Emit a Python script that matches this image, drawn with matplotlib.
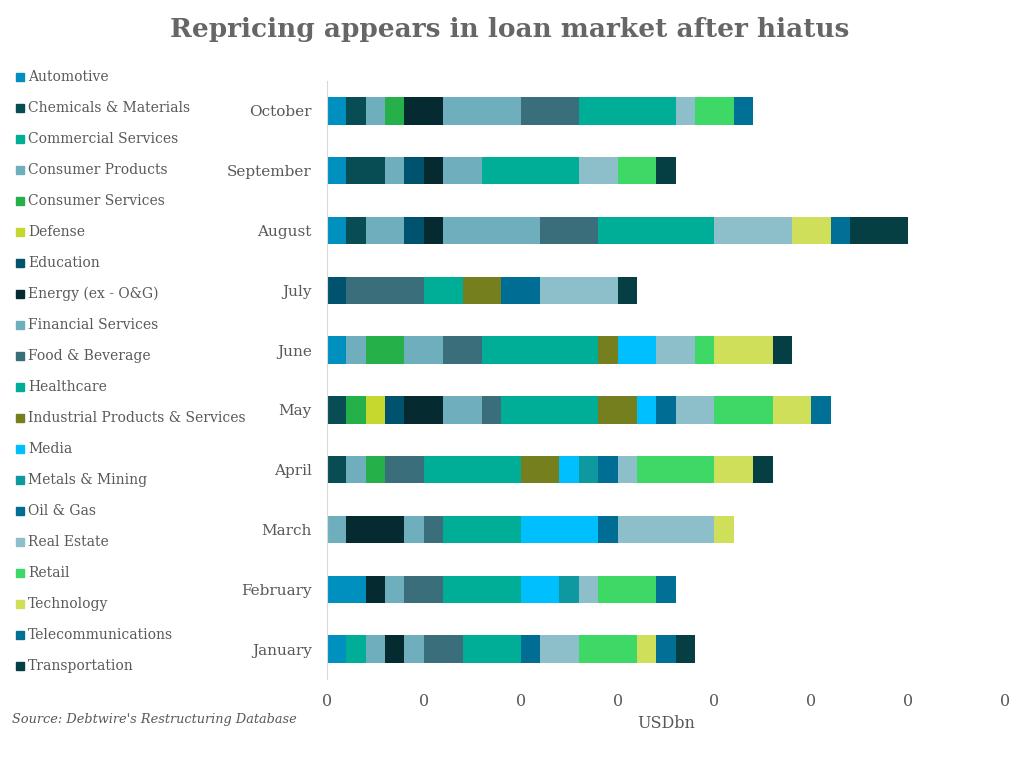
import numpy as np
import matplotlib
matplotlib.use("Agg")
import matplotlib.pyplot as plt
from matplotlib.patches import Rectangle

months = ["January", "February", "March", "April", "May",
          "June", "July", "August", "September", "October"]

sectors = [
    "Automotive", "Chemicals & Materials", "Commercial Services", "Consumer Products",
    "Consumer Services", "Defense", "Education", "Energy (ex - O&G)", "Financial Services",
    "Food & Beverage", "Healthcare", "Industrial Products & Services", "Media",
    "Metals & Mining", "Oil & Gas", "Real Estate", "Retail", "Technology",
    "Telecommunications", "Transportation",
]

colors = [
    "#0090c0", "#084c54", "#00ad96", "#6fafbd", "#25b04a", "#c4d82e", "#00536f",
    "#052b31", "#6fafbd", "#3a6e7a", "#00ad96", "#757f1e", "#00bfff", "#0e98a0",
    "#006e94", "#8dbfcb", "#3dd865", "#d0df5a", "#007096", "#053f44",
]

# values per sector, January .. October
automotive       = [1, 2, 0, 0, 0, 1, 0, 1, 1, 1]
chemicals        = [0, 0, 0, 1, 1, 0, 0, 1, 2, 1]
commercial       = [1, 0, 0, 0, 0, 0, 0, 0, 0, 0]
consumer_prod    = [1, 0, 1, 1, 0, 1, 0, 2, 1, 1]
consumer_serv    = [0, 0, 0, 1, 1, 2, 0, 0, 0, 1]
defense          = [0, 0, 0, 0, 1, 0, 0, 0, 0, 0]
education        = [0, 0, 0, 0, 1, 0, 1, 1, 1, 0]
energy           = [1, 1, 3, 0, 2, 0, 0, 1, 1, 2]
financial        = [1, 1, 1, 0, 2, 2, 0, 5, 2, 4]
food_bev         = [2, 2, 1, 2, 1, 2, 4, 3, 0, 3]
healthcare       = [3, 4, 4, 5, 5, 6, 2, 6, 5, 5]
industrial       = [0, 0, 0, 2, 2, 1, 2, 0, 0, 0]
media            = [0, 2, 4, 1, 1, 2, 0, 0, 0, 0]
metals           = [0, 1, 0, 1, 0, 0, 0, 0, 0, 0]
oil_gas          = [1, 0, 1, 1, 1, 0, 2, 0, 0, 0]
real_estate      = [2, 1, 5, 1, 2, 2, 4, 4, 2, 1]
retail           = [3, 3, 0, 4, 3, 1, 0, 0, 2, 2]
technology       = [1, 0, 1, 2, 2, 3, 0, 2, 0, 0]
telecom          = [1, 1, 0, 0, 1, 0, 0, 1, 0, 1]
transportation   = [1, 0, 0, 1, 0, 1, 1, 3, 1, 0]

series = [automotive, chemicals, commercial, consumer_prod, consumer_serv, defense,
          education, energy, financial, food_bev, healthcare, industrial, media,
          metals, oil_gas, real_estate, retail, technology, telecom, transportation]

xticks = [0, 5, 10, 15, 20, 25, 30, 35]
xtick_labels = ["0"] * len(xticks)

plt.rcParams["font.family"] = ["DejaVu Serif"]
text_grey = "#595959"

fig = plt.figure(figsize=(10.24, 7.63), dpi=100)
ax = fig.add_axes([327 / 1024, 84 / 763, (1005 - 327) / 1024, (679 - 81) / 763])

y = np.arange(len(months))
left = np.zeros(len(months))
for name, vals, col in zip(sectors, series, colors):
    vals = np.array(vals, dtype=float)
    ax.barh(y, vals, left=left, height=0.46, color=col, label=name)
    left += vals

ax.set_xlim(0, 35)
ax.set_ylim(-0.5, len(months) - 0.5)
ax.set_yticks(y)
ax.set_yticklabels(months, fontsize=11.0, color=text_grey)
ax.set_xticks(xticks)
ax.set_xticklabels(xtick_labels, fontsize=11.5, color=text_grey)
ax.tick_params(length=0, pad=11)
ax.tick_params(axis="x", pad=10)
for side in ["top", "right", "bottom"]:
    ax.spines[side].set_visible(False)
ax.spines["left"].set_color("#d9d9d9")
ax.spines["left"].set_linewidth(0.8)
ax.set_xlabel("USDbn", fontsize=11.5, color=text_grey, labelpad=4)

# legend on the left
for i, (name, col) in enumerate(zip(sectors, colors)):
    yy = 1 - (77 + i * 31) / 763
    fig.patches.append(Rectangle((16 / 1024, yy - 4 / 763), 8 / 1024, 8 / 763,
                                 transform=fig.transFigure, color=col))
    fig.text(28 / 1024, yy, name, fontsize=10.0, color=text_grey, va="center", ha="left")

fig.text(510 / 1024, 1 - 29 / 763, "Repricing appears in loan market after hiatus",
         fontsize=19, fontweight="bold", color="#666666", ha="center", va="center")
fig.text(12 / 1024, 1 - 720 / 763, "Source: Debtwire's Restructuring Database",
         fontsize=9.3, style="italic", color=text_grey, ha="left", va="center")

fig.savefig("out.png", dpi=100)
